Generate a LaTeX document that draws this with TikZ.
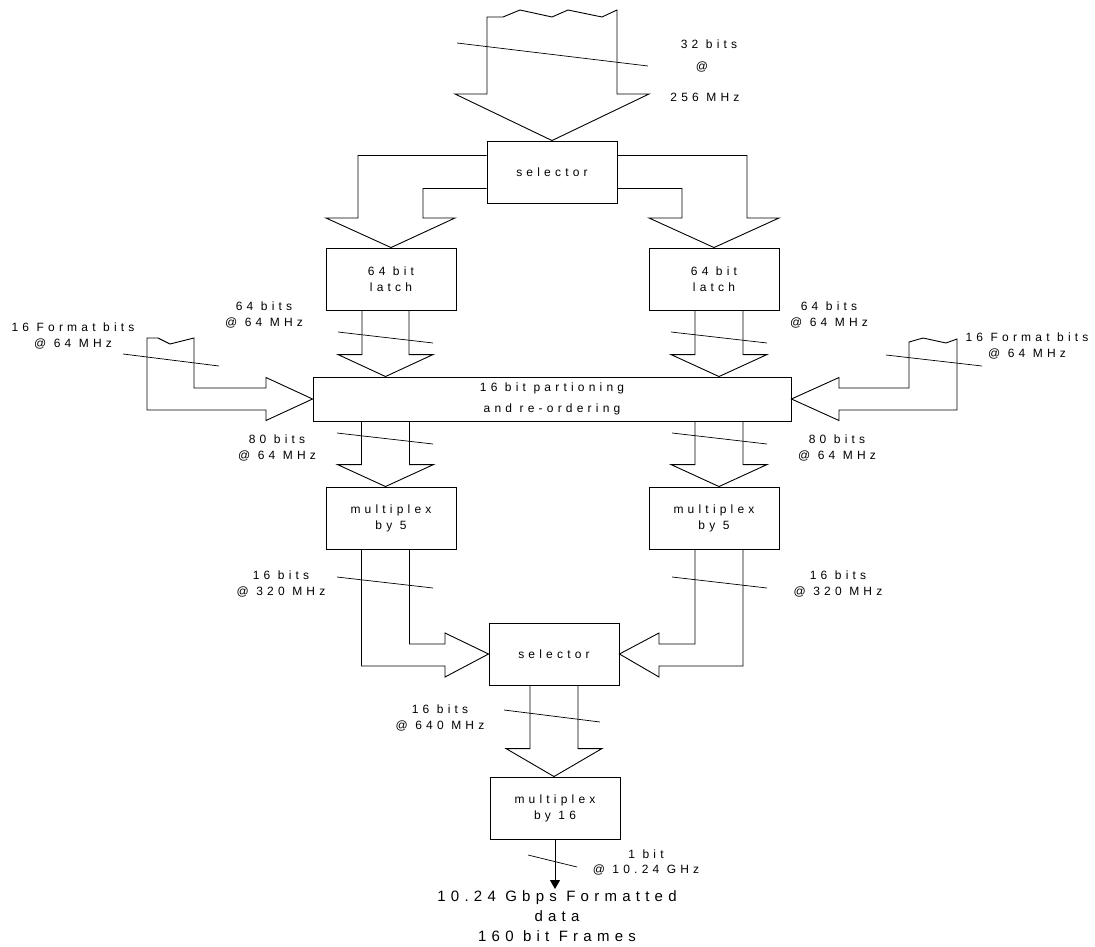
\documentclass[tikz,border=0pt]{standalone}
\usepackage{fontspec}
\setmainfont{Liberation Sans}[LetterSpace=35]
\usetikzlibrary{arrows.meta,calc}

\newcommand{\diagfont}{\fontsize{12}{16}\selectfont}
% hollow bus arrow going down: from, tip, half shaft, half head, head depth
\newcommand{\busdown}[5]{%
  \draw let \p1=(#2), \p2=(#1) in
    (\x1-#3pt,\y2) -- (\x1-#3pt,\y1+#5pt) -- (\x1-#4pt,\y1+#5pt) -- (\p1)
    -- (\x1+#4pt,\y1+#5pt) -- (\x1+#3pt,\y1+#5pt) -- (\x1+#3pt,\y2);}

\tikzset{
    blk/.style={draw, rectangle, minimum width=130pt, minimum height=62pt,
        inner sep=0pt, align=center, font=\diagfont},
    lbl/.style={align=center, inner sep=0pt, font=\diagfont},
}

\begin{document}
\begin{tikzpicture}[x=1pt, y=-1pt, line width=0.9pt, line join=miter]
    \useasboundingbox (0,0) rectangle (1095,947);

    % blocks
    \node[blk] (sel1) at (552,172) {selector};
    \node[blk] (latchL) at (391,279) {64 bit\\latch};
    \node[blk] (latchR) at (714,279) {64 bit\\latch};
    \node[blk, minimum width=478pt, minimum height=44pt] (part) at (552,399) {16 bit partioning\\[5pt]and re-ordering};
    \node[blk] (muxL) at (391,518) {multiplex\\by 5};
    \node[blk] (muxR) at (714,518) {multiplex\\by 5};
    \node[blk] (sel2) at (554,654) {selector};
    \node[blk] (mux16) at (555,808) {multiplex\\by 16};
    \node[lbl, font=\fontsize{15}{20}\selectfont, anchor=north, inner sep=1pt] (out) at (557,889) {10.24 Gbps Formatted\\data\\160 bit Frames};

    \coordinate (busL) at ([xshift=-5.5pt]latchL.south);
    \coordinate (busR) at ([xshift=5pt]latchR.south);

    % input bus
    \draw (617,94) -- (649,94) -- (sel1.north) -- (455,94) -- (487,94) -- (487,17) -- (503,17) -- (520,10)
        -- (552,17) -- (568,10) -- (602,17) -- (617,10) -- cycle;
    \node[lbl] (in1) at (709,44) {32 bits};
    \node[lbl] (in2) at (702,67) {@};
    \node[lbl] (in3) at (705,97) {256 MHz};

    % selector split
    \draw ([yshift=-15pt]sel1.north west) -| (358,218) -- (326,218) -- (latchL.north) -- (455,218) -- (423,218)
        |- ([yshift=15pt]sel1.south west);
    \draw ([yshift=-15pt]sel1.north east) -| (747,218) -- (779,218) -- (latchR.north) -- (649,218) -- (682,218)
        |- ([yshift=15pt]sel1.south east);

    % latches to partitioning
    \busdown{busL}{busL |- part.north}{23.5}{47.5}{22}
    \busdown{busR}{busR |- part.north}{24}{48}{22}
    \node[lbl] (t64L) at (264,315) {64 bits\\@ 64 MHz};
    \node[lbl] (t64R) at (829,315) {64 bits\\@ 64 MHz};

    % format bits
    \draw (194,338) -- (194,388) -- (266,388) -- (266,377.5) -- (part.west) -- (266,420.5) -- (266,410)
        -- (147,410) -- (147,338) -- (158,338) -- (170,344) -- cycle;
    \draw (909,342) -- (909,388) -- (839,388) -- (839,377.5) -- (part.east) -- (839,420.5) -- (839,410)
        -- (957,410) -- (957,339) -- (946,343) -- (923,338) -- cycle;
    \node[lbl] (fmtL) at (73,335.5) {16 Format bits\\@ 64 MHz};
    \node[lbl] (fmtR) at (1027,345.5) {16 Format bits\\@ 64 MHz};

    % partitioning to multiplexers
    \busdown{busL |- part.south}{busL |- muxL.north}{24}{48}{22}
    \busdown{busR |- part.south}{busR |- muxR.north}{24}{48}{22}
    \node[lbl] (t80L) at (277,447.5) {80 bits\\@ 64 MHz};
    \node[lbl] (t80R) at (837,447.5) {80 bits\\@ 64 MHz};

    % multiplexers to selector
    \draw ($(busL |- muxL.south)+(-24,0)$) |- (445,666) -- (445,677) -- (sel2.west) -- (445,633) -- (445,644)
        -| ($(busL |- muxL.south)+(24,0)$);
    \draw ($(busR |- muxR.south)+(24,0)$) |- (659,666) -- (659,677) -- (sel2.east) -- (659,633) -- (659,644)
        -| ($(busR |- muxR.south)+(-24,0)$);
    \node[lbl] (t320L) at (281,583.5) {16 bits\\@ 320 MHz};
    \node[lbl] (t320R) at (838,583.5) {16 bits\\@ 320 MHz};

    % selector to last multiplexer
    \busdown{sel2.south}{sel2.south |- mux16.north}{24}{48}{28}
    \node[lbl] (t640) at (440,717.5) {16 bits\\@ 640 MHz};

    % serial output
    \draw[-{Triangle[width=10pt,length=9pt]}] (mux16.south) -- (mux16.south |- out.north);
    \node[lbl, font=\fontsize{12}{15}\selectfont] (t1bit) at (646,862.5) {1 bit\\@ 10.24 GHz};

    % bus width marks
    \foreach \a/\b in {{457,43}/{648,66}, {338,332}/{433,343}, {671,332}/{767,343}, {123,354}/{219,366},
        {886,355}/{982,366}, {337,433}/{433,444}, {672,433}/{767,444}, {337,577}/{433,588},
        {672,577}/{767,588}, {504,710}/{600,722}, {528,855}/{577,867}}
        \draw[line width=0.7pt] (\a) -- (\b);
\end{tikzpicture}
\end{document}
